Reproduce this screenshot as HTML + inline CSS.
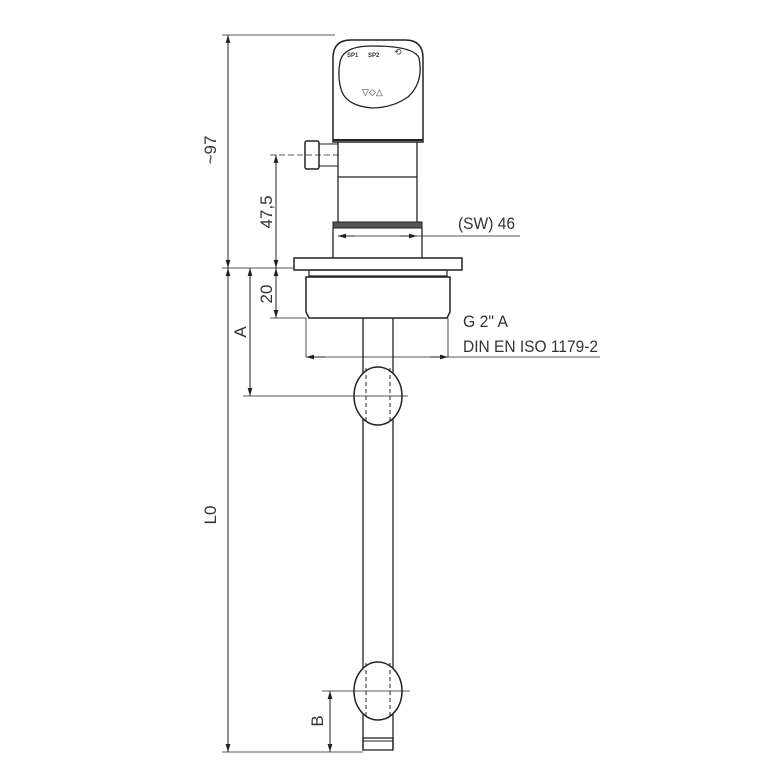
<!DOCTYPE html>
<html><head><meta charset="utf-8"><style>
html,body{margin:0;padding:0;background:#fff;}
svg{display:block}
text{font-family:"Liberation Sans Narrow","Liberation Sans",sans-serif;fill:#333;}
</style></head><body>
<svg width="767" height="767" viewBox="0 0 767 767" xmlns="http://www.w3.org/2000/svg">
<defs>
<marker id="a" viewBox="0 0 10 10" refX="10" refY="5" markerWidth="8" markerHeight="8" orient="auto-start-reverse"><path d="M0,2 L10,5 L0,8 z" fill="#222"/></marker>
</defs>
<g stroke="#222" fill="none" stroke-width="1">
<path d="M333,142 L333,58 Q333,40 351,40 L405,40 Q423,40 423,58 L423,142 Z" stroke-width="1.5"/>
<path d="M340,62 Q343,46 372,46 Q414,46 419,58 Q424,82 408,97 Q392,108 372,108 Q348,106 342,92 Q337,78 340,62 Z" stroke-width="1.3"/>
<line x1="333" y1="140" x2="423" y2="140" stroke-width="2"/>
<path d="M338,142 L338,223 M417,142 L417,223" stroke-width="1.3"/>
<line x1="338" y1="177" x2="417" y2="177" stroke-width="1.3"/>
<rect x="305" y="141" width="14" height="28" rx="2" stroke-width="1.5"/>
<path d="M319,144 L338,144 M319,166 L338,166"/>
<rect x="333" y="222" width="89" height="6" fill="#555" stroke-width="1"/>
<path d="M333,228 L333,258 M422,228 L422,258" stroke-width="1.3"/>
<rect x="294" y="258" width="168" height="12" stroke-width="1.5"/>
<rect x="309" y="270" width="138" height="6" stroke-width="1.2"/>
<path d="M306,277 L450,277 L450,312 L447,318 L309,318 L306,312 Z" stroke-width="1.5"/>
<path d="M363,318 L363,750 M393,318 L393,750" stroke-width="1.3"/>
<rect x="363" y="738" width="30" height="12" stroke-width="1.3"/>
<line x1="363" y1="741" x2="393" y2="741" stroke-width="1"/>
<ellipse cx="378" cy="396" rx="24" ry="29" fill="#fff" stroke-width="1.5"/>
<path d="M366,368 L366,424 M390,368 L390,424" stroke-dasharray="4,3"/>
<ellipse cx="378" cy="691" rx="24" ry="29" fill="#fff" stroke-width="1.5"/>
<path d="M366,663 L366,719 M390,663 L390,719" stroke-dasharray="4,3"/>
<line x1="222" y1="35" x2="335" y2="35" stroke-width="0.8"/>
<line x1="228" y1="35" x2="228" y2="268" marker-start="url(#a)" marker-end="url(#a)"/>
<line x1="222" y1="268" x2="294" y2="268" stroke-width="0.8"/>
<line x1="228" y1="268" x2="228" y2="752" marker-start="url(#a)" marker-end="url(#a)"/>
<line x1="222" y1="752" x2="363" y2="752" stroke-width="0.8"/>
<line x1="270" y1="155" x2="340" y2="155" stroke-dasharray="6,3" stroke-width="0.8"/>
<line x1="276" y1="155" x2="276" y2="268" marker-start="url(#a)" marker-end="url(#a)"/>
<line x1="276" y1="268" x2="276" y2="318" marker-start="url(#a)" marker-end="url(#a)"/>
<line x1="270" y1="318" x2="306" y2="318" stroke-width="0.8"/>
<line x1="250" y1="268" x2="250" y2="396" marker-start="url(#a)" marker-end="url(#a)"/>
<line x1="243" y1="396" x2="408" y2="396" stroke-width="0.8"/>
<line x1="322" y1="691" x2="410" y2="691" stroke-width="0.8"/>
<line x1="330" y1="691" x2="330" y2="752" marker-start="url(#a)" marker-end="url(#a)"/>
<line x1="338" y1="236" x2="520" y2="236" stroke-width="0.8"/>
<line x1="355" y1="236" x2="338" y2="236" marker-end="url(#a)"/>
<line x1="400" y1="236" x2="417" y2="236" marker-end="url(#a)"/>
<line x1="306" y1="357" x2="600" y2="357" stroke-width="0.8"/>
<line x1="306" y1="318" x2="306" y2="357" stroke-width="0.8"/>
<line x1="448" y1="318" x2="448" y2="357" stroke-width="0.8"/>
<line x1="325" y1="357" x2="306" y2="357" marker-end="url(#a)"/>
<line x1="430" y1="357" x2="448" y2="357" marker-end="url(#a)"/>
</g>
<text x="347" y="57" font-size="6" font-weight="bold">SP1</text>
<text x="368" y="57" font-size="6" font-weight="bold">SP2</text>
<text x="394" y="55" font-size="9">⟲</text>
<text x="362" y="95" font-size="9">▽◇△</text>
<text x="458" y="229" font-size="17" textLength="57" lengthAdjust="spacingAndGlyphs">(SW) 46</text>
<text x="463" y="327" font-size="17" textLength="45" lengthAdjust="spacingAndGlyphs">G 2" A</text>
<text x="463" y="352" font-size="17" textLength="135" lengthAdjust="spacingAndGlyphs">DIN EN ISO 1179-2</text>
<text transform="translate(216,150) rotate(-90)" font-size="17" text-anchor="middle">~97</text>
<text transform="translate(272,212) rotate(-90)" font-size="17" text-anchor="middle">47,5</text>
<text transform="translate(272,294) rotate(-90)" font-size="17" text-anchor="middle">20</text>
<text transform="translate(246,332) rotate(-90)" font-size="17" text-anchor="middle">A</text>
<text transform="translate(216,515) rotate(-90)" font-size="17" text-anchor="middle">L0</text>
<text transform="translate(323,721) rotate(-90)" font-size="17" text-anchor="middle">B</text>
</svg>
</body></html>
